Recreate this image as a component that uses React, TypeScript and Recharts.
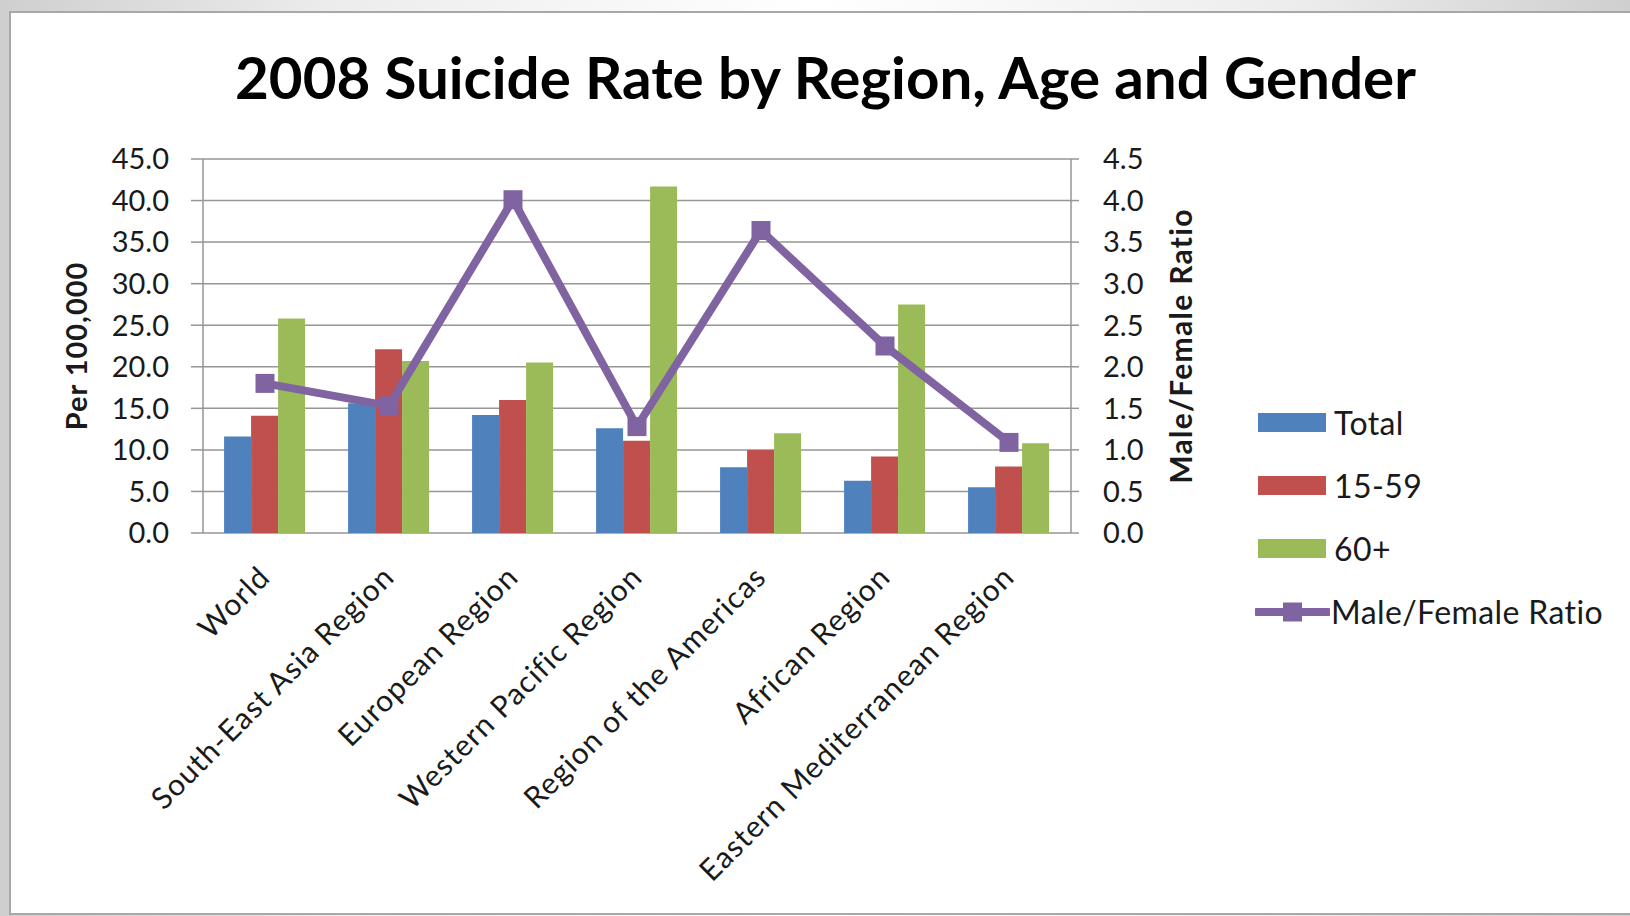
import { ComposedChart, Bar, Line, XAxis, YAxis, CartesianGrid, Legend } from "recharts";

const REGIONS = [
  "World",
  "South-East Asia Region",
  "European Region",
  "Western Pacific Region",
  "Region of the Americas",
  "African Region",
  "Eastern Mediterranean Region",
];
const TOTAL = [11.6, 15.6, 14.2, 12.6, 7.9, 6.3, 5.5];
const AGE_15_59 = [14.1, 22.1, 16.0, 11.1, 10.0, 9.2, 8.0];
const AGE_60_PLUS = [25.8, 20.7, 20.5, 41.7, 12.0, 27.5, 10.8];
const MF_RATIO = [1.8, 1.53, 4.01, 1.28, 3.64, 2.25, 1.09];

const LEFT_TICKS = [0, 5, 10, 15, 20, 25, 30, 35, 40, 45];
const RIGHT_TICKS = [0, 0.5, 1, 1.5, 2, 2.5, 3, 3.5, 4, 4.5];
const BOUNDARY_TICKS = [0, 1, 2, 3, 4, 5, 6, 7];

const BAR_SERIES = [
  { key: "total", name: "Total", color: "#4F81BD" },
  { key: "young", name: "15-59", color: "#C0504D" },
  { key: "old", name: "60+", color: "#9BBB59" },
];
const LINE_SERIES = { key: "ratio", name: "Male/Female Ratio", color: "#8064A2" };

const data = REGIONS.map((region, i) => ({
  region,
  total: TOTAL[i],
  young: AGE_15_59[i],
  old: AGE_60_PLUS[i],
  ratio: MF_RATIO[i],
}));

const FONT = "Lato, 'Open Sans', sans-serif";
const TEXT = "#1a1a1a";
const GRID = "#969696";

function CategoryTick({ x, y, payload }: any) {
  const tx = x + 7;
  const ty = y + 46;
  return (
    <text
      x={tx}
      y={ty}
      transform={`rotate(-45 ${tx} ${ty})`}
      textAnchor="end"
      fontSize={30}
      letterSpacing={1.1}
      fontFamily={FONT}
      fill={TEXT}
    >
      {payload.value}
    </text>
  );
}

function SquareDot({ cx, cy, index }: any) {
  if (cx == null || cy == null) return <g key={index} />;
  return <rect key={index} x={cx - 9.5} y={cy - 9.5} width={19} height={19} fill={LINE_SERIES.color} />;
}

function ChartLegend() {
  const row = { display: "flex", alignItems: "center", height: 63 } as const;
  const label = {
    fontFamily: FONT,
    fontSize: 32,
    letterSpacing: 0.4,
    color: TEXT,
    marginLeft: 8,
    whiteSpace: "nowrap",
  } as const;
  return (
    <div>
      {BAR_SERIES.map((s) => (
        <div key={s.key} style={row}>
          <div style={{ width: 68, height: 19, background: s.color, marginLeft: 3 }} />
          <span style={label}>{s.name}</span>
        </div>
      ))}
      <div style={row}>
        <svg width={75} height={20}>
          <line x1={2} y1={10} x2={73} y2={10} stroke={LINE_SERIES.color} strokeWidth={8} strokeLinecap="round" />
          <rect x={28} y={0.5} width={19} height={19} fill={LINE_SERIES.color} />
        </svg>
        <span style={{ ...label, marginLeft: 1 }}>{LINE_SERIES.name}</span>
      </div>
    </div>
  );
}

export default function App() {
  return (
    <div
      style={{
        position: "absolute",
        left: 0,
        top: 0,
        width: 1630,
        height: 916,
        overflow: "hidden",
        background: "linear-gradient(to right, #cfcfcf, #ececec 20%, #ffffff 50%, #ececec 80%, #cfcfcf)",
      }}
    >
      <div
        style={{
          position: "absolute",
          left: 9,
          top: 11,
          width: 1650,
          height: 900,
          background: "#ffffff",
          border: "2px solid #a8a8a8",
        }}
      />
      <div style={{ position: "absolute", left: 0, top: 0 }}>
        <ComposedChart
          width={1630}
          height={916}
          data={data}
          margin={{ top: 159, right: 399, bottom: 83, left: 0 }}
          barCategoryGap="17%"
          barGap={0}
          style={{ fontFamily: FONT }}
        >
          <CartesianGrid xAxisId="cat" yAxisId="left" vertical={false} stroke={GRID} strokeWidth={1.5} />
          <XAxis
            xAxisId="bounds"
            type="number"
            domain={[0, 7]}
            ticks={BOUNDARY_TICKS}
            interval={0}
            allowDataOverflow
            height={0}
            tick={false}
            tickSize={9}
            tickLine={{ stroke: GRID, strokeWidth: 1.5 }}
            axisLine={{ stroke: GRID, strokeWidth: 1.5 }}
          />
          <XAxis
            xAxisId="cat"
            dataKey="region"
            height={300}
            interval={0}
            tickSize={0}
            tickMargin={0}
            tickLine={false}
            axisLine={false}
            tick={<CategoryTick />}
          />
          <YAxis
            yAxisId="left"
            width={203}
            domain={[0, 45]}
            ticks={LEFT_TICKS}
            interval={0}
            tickFormatter={(v: number) => v.toFixed(1)}
            tickSize={12}
            tickMargin={22}
            tick={{ fontSize: 29, fill: TEXT, fontFamily: FONT }}
            tickLine={{ stroke: GRID, strokeWidth: 1.5 }}
            axisLine={{ stroke: GRID, strokeWidth: 1.5 }}
            label={{
              value: "Per 100,000",
              angle: -90,
              position: "center",
              dx: -25,
              fontSize: 29,
              letterSpacing: 1,
              fontWeight: 700,
              fontFamily: FONT,
              fill: TEXT,
            }}
          />
          <YAxis
            yAxisId="right"
            orientation="right"
            width={160}
            domain={[0, 4.5]}
            ticks={RIGHT_TICKS}
            interval={0}
            tickFormatter={(v: number) => v.toFixed(1)}
            tickSize={8}
            tickMargin={24}
            tick={{ fontSize: 29, fill: TEXT, fontFamily: FONT }}
            tickLine={{ stroke: GRID, strokeWidth: 1.5 }}
            axisLine={{ stroke: GRID, strokeWidth: 1.5 }}
            label={{
              value: "Male/Female Ratio",
              angle: -90,
              position: "center",
              dx: 30,
              fontSize: 30,
              letterSpacing: 1.3,
              fontWeight: 700,
              fontFamily: FONT,
              fill: TEXT,
            }}
          />
          <Legend
            layout="vertical"
            align="center"
            verticalAlign="middle"
            content={() => <ChartLegend />}
            wrapperStyle={{ left: 1255, top: 391, width: 370 }}
          />
          {BAR_SERIES.map((s) => (
            <Bar
              key={s.key}
              xAxisId="cat"
              yAxisId="left"
              dataKey={s.key}
              name={s.name}
              fill={s.color}
              isAnimationActive={false}
            />
          ))}
          <Line
            xAxisId="cat"
            yAxisId="right"
            dataKey={LINE_SERIES.key}
            name={LINE_SERIES.name}
            stroke={LINE_SERIES.color}
            strokeWidth={8}
            strokeLinejoin="round"
            dot={<SquareDot />}
            activeDot={false}
            isAnimationActive={false}
          />
        </ComposedChart>
      </div>
      <svg width={1630} height={130} style={{ position: "absolute", left: 0, top: 0, pointerEvents: "none" }}>
        <text
          x={825.5}
          y={99}
          textAnchor="middle"
          fontSize={58}
          fontWeight={700}
          fontFamily={FONT}
          fill="#000000"
          textLength={1181}
          lengthAdjust="spacingAndGlyphs"
        >
          2008 Suicide Rate by Region, Age and Gender
        </text>
      </svg>
    </div>
  );
}
